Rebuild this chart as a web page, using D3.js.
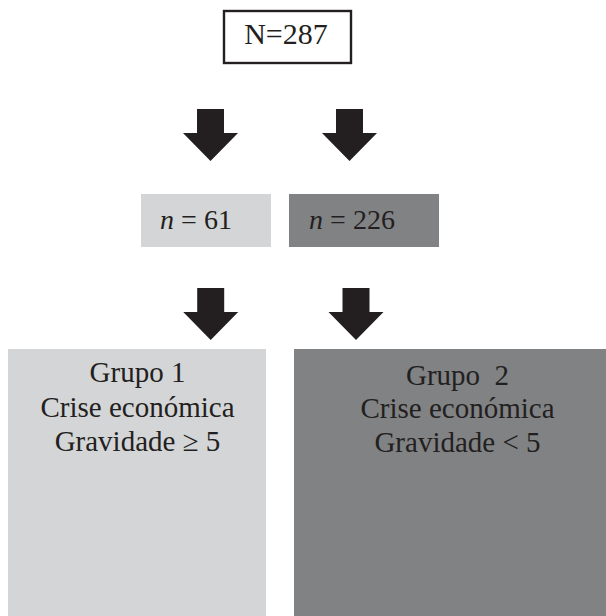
<!DOCTYPE html>
<html>
<head>
<meta charset="utf-8">
<script src="https://cdn.jsdelivr.net/npm/d3@7"></script>
<style>
  html, body { margin: 0; padding: 0; background: #fff; }
</style>
</head>
<body>
<div id="chart"></div>
<script>
// data
const totalLabel = 'N=287';
const subCounts = [61, 226];
const groupTitles = ['Grupo 1', 'Grupo  2'];
const groupCrisis = ['Crise económica', 'Crise económica'];
const groupRules = ['Gravidade \u2265 5', 'Gravidade < 5'];
const shades = ['#d4d5d7', '#818284'];

const width = 606, height = 616;
const ink = '#231f20';
const font = '"Liberation Serif", "Times New Roman", serif';

const svg = d3.select('#chart').append('svg')
  .attr('width', width)
  .attr('height', height);

// top box
const topBox = svg.append('g');
topBox.append('rect')
  .attr('x', 224).attr('y', 11)
  .attr('width', 127).attr('height', 52)
  .attr('fill', '#fff')
  .attr('stroke', ink)
  .attr('stroke-width', 2.4);
topBox.append('text')
  .attr('x', 286).attr('y', 44)
  .attr('text-anchor', 'middle')
  .attr('font-family', font)
  .attr('font-size', 30)
  .attr('fill', ink)
  .text(totalLabel);

// arrows
function arrow(cx, y0) {
  const sw = 13.5, hw = 27.5, sh = 24, tip = 52;
  const pts = [
    [cx - sw, y0], [cx + sw, y0], [cx + sw, y0 + sh], [cx + hw, y0 + sh],
    [cx, y0 + tip], [cx - hw, y0 + sh], [cx - sw, y0 + sh]
  ];
  svg.append('path')
    .attr('d', d3.line()(pts) + 'Z')
    .attr('fill', ink);
}
arrow(210.5, 109);
arrow(349.5, 109);
arrow(210.7, 288);
arrow(356, 288);

// middle boxes
const midBoxes = [
  {x: 141, w: 130, tx: 196, i: 0},
  {x: 289, w: 150, tx: 352, i: 1}
];
const mid = svg.selectAll('g.mid')
  .data(midBoxes)
  .join('g')
    .attr('class', 'mid');
mid.append('rect')
  .attr('x', d => d.x).attr('y', 194)
  .attr('width', d => d.w).attr('height', 53)
  .attr('fill', d => shades[d.i]);
const midText = mid.append('text')
  .attr('x', d => d.tx).attr('y', 229)
  .attr('text-anchor', 'middle')
  .attr('font-family', font)
  .attr('font-size', 28)
  .attr('fill', ink);
midText.append('tspan').attr('font-style', 'italic').text('n');
midText.append('tspan').text(d => ' = ' + subCounts[d.i]);

// bottom boxes
const groups = [
  {x: 8, w: 258, cx: 137.5, base: [382, 417, 451], i: 0},
  {x: 294, w: 312, cx: 457.5, base: [385, 418, 452], i: 1}
];
const grp = svg.selectAll('g.grp')
  .data(groups)
  .join('g')
    .attr('class', 'grp');
grp.append('rect')
  .attr('x', d => d.x).attr('y', 349)
  .attr('width', d => d.w).attr('height', height - 349)
  .attr('fill', d => shades[d.i]);
grp.each(function(d) {
  const lines = [groupTitles[d.i], groupCrisis[d.i], groupRules[d.i]];
  d3.select(this).selectAll('text')
    .data(lines)
    .join('text')
      .attr('x', d.cx)
      .attr('y', (t, k) => d.base[k])
      .attr('text-anchor', 'middle')
      .attr('font-family', font)
      .attr('font-size', 29)
      .attr('fill', ink)
      .style('white-space', 'pre')
      .text(t => t);
});
</script>
</body>
</html>
